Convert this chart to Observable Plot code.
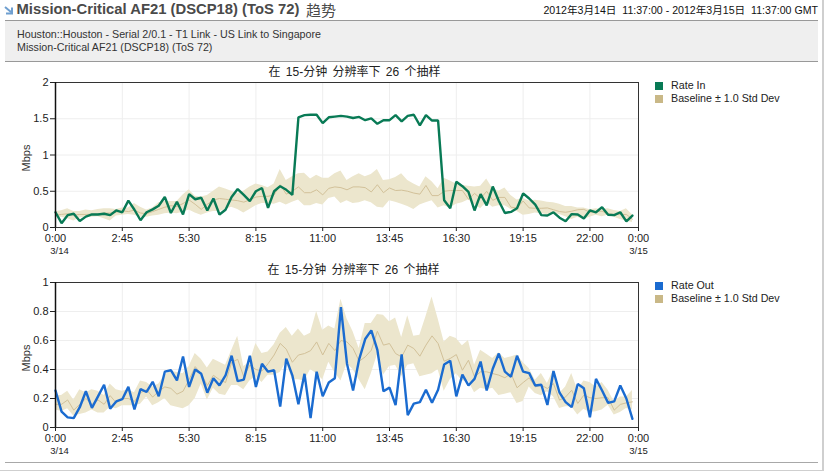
<!DOCTYPE html>
<html><head><meta charset="utf-8">
<script src="https://cdn.jsdelivr.net/npm/d3@7"></script>
<script src="https://cdn.jsdelivr.net/npm/@observablehq/plot@0.6"></script>
<style>
html,body{margin:0;padding:0;background:#fff;width:824px;height:471px;overflow:hidden;font-family:"Liberation Sans",Arial,sans-serif}
.abs{position:absolute;white-space:nowrap}
svg{display:block}
</style></head><body>
<script>
const tickHours=[0,2.75,5.5,8.25,11,13.75,16.5,19.25,22,24];
const tickLabels=["0:00","2:45","5:30","8:15","11:00","13:45","16:30","19:15","22:00","0:00"];
const rateIn=[.21,.06,.17,.19,.09,.15,.18,.18,.19,.17,.235,.21,.37,.245,.10,.21,.25,.30,.42,.20,.355,.18,.46,.39,.41,.235,.40,.18,.245,.42,.53,.45,.365,.50,.545,.27,.50,.57,.52,.45,1.52,1.55,1.555,1.555,1.44,1.52,1.53,1.54,1.53,1.51,1.525,1.48,1.505,1.43,1.48,1.48,1.55,1.465,1.54,1.555,1.41,1.55,1.475,1.475,.375,.265,.63,.57,.49,.235,.46,.305,.565,.365,.20,.215,.265,.47,.40,.315,.17,.165,.21,.135,.085,.185,.18,.125,.235,.21,.28,.175,.17,.21,.085,.165];
const baseIn=[.17,.18,.19,.17,.18,.18,.185,.19,.2,.2,.21,.23,.22,.24,.2,.19,.22,.25,.28,.3,.29,.33,.38,.32,.25,.32,.38,.4,.39,.38,.37,.35,.38,.42,.43,.43,.45,.59,.46,.5,.56,.48,.48,.52,.45,.54,.56,.55,.52,.56,.56,.55,.49,.59,.48,.545,.51,.515,.50,.475,.46,.58,.44,.44,.5,.51,.51,.51,.39,.47,.40,.5,.375,.415,.415,.28,.27,.365,.27,.265,.265,.27,.245,.22,.21,.225,.245,.25,.21,.22,.225,.19,.18,.18,.18,.115];
const upperIn=[.22,.23,.26,.22,.22,.24,.23,.25,.26,.26,.25,.27,.27,.33,.28,.24,.27,.34,.36,.36,.36,.45,.52,.43,.42,.44,.5,.56,.53,.5,.47,.5,.56,.6,.58,.55,.6,.8,.65,.7,.74,.75,.67,.72,.68,.68,.74,.78,.65,.7,.74,.70,.73,.8,.65,.66,.69,.74,.65,.6,.56,.70,.63,.535,.68,.64,.6,.58,.57,.56,.57,.67,.535,.5,.545,.44,.38,.4,.365,.375,.365,.35,.34,.32,.29,.29,.27,.27,.245,.26,.25,.26,.235,.22,.26,.175];
const lowerIn=[.14,.14,.12,.09,.13,.14,.14,.15,.12,.09,.16,.17,.18,.17,.14,.14,.16,.17,.19,.2,.19,.21,.24,.2,.17,.2,.22,.22,.25,.28,.25,.2,.25,.3,.33,.33,.32,.35,.31,.35,.38,.3,.3,.33,.31,.4,.42,.33,.37,.33,.34,.37,.34,.28,.27,.37,.35,.32,.29,.25,.31,.34,.37,.27,.3,.27,.32,.34,.38,.32,.26,.35,.28,.3,.3,.25,.22,.17,.18,.2,.19,.18,.19,.18,.15,.11,.14,.11,.14,.17,.15,.17,.14,.11,.09,.07];
const rateOut=[.255,.11,.07,.065,.14,.25,.135,.215,.295,.13,.18,.195,.28,.125,.265,.245,.315,.215,.385,.395,.325,.49,.28,.40,.37,.24,.34,.29,.36,.495,.32,.33,.495,.28,.44,.385,.395,.145,.475,.36,.16,.37,.065,.385,.215,.31,.34,.83,.44,.255,.47,.61,.67,.535,.25,.275,.155,.505,.085,.165,.175,.26,.17,.26,.435,.46,.215,.365,.29,.335,.455,.255,.405,.51,.385,.35,.495,.385,.375,.29,.295,.155,.39,.24,.175,.14,.30,.27,.07,.335,.255,.17,.18,.29,.20,.06];
const baseOut=[.16,.16,.19,.12,.16,.2,.16,.19,.16,.22,.17,.2,.2,.18,.24,.26,.21,.25,.28,.27,.23,.25,.33,.42,.37,.29,.36,.33,.31,.45,.47,.35,.43,.4,.39,.44,.5,.58,.54,.45,.5,.51,.53,.59,.5,.58,.53,.6,.59,.545,.457,.487,.533,.664,.568,.579,.51,.487,.568,.545,.492,.568,.632,.579,.457,.476,.503,.395,.464,.349,.384,.384,.372,.361,.343,.372,.274,.31,.343,.28,.292,.269,.303,.189,.211,.257,.166,.223,.205,.2,.205,.205,.12,.159,.17,.177];
const upperOut=[.22,.22,.25,.19,.26,.24,.26,.25,.22,.3,.26,.25,.26,.24,.32,.31,.28,.3,.36,.39,.38,.37,.42,.51,.47,.41,.47,.45,.43,.53,.63,.42,.45,.58,.51,.52,.57,.65,.69,.63,.68,.63,.65,.8,.67,.7,.68,.885,.75,.66,.545,.717,.717,.78,.775,.73,.756,.62,.77,.63,.637,.763,.9,.75,.59,.63,.614,.563,.6,.43,.533,.506,.476,.515,.476,.487,.5,.448,.407,.326,.372,.303,.395,.234,.28,.372,.257,.32,.31,.28,.31,.257,.177,.21,.21,.255];
const lowerOut=[.12,.11,.13,.08,.09,.1,.12,.1,.1,.14,.13,.15,.15,.15,.16,.21,.15,.17,.2,.15,.14,.13,.15,.2,.3,.19,.27,.23,.22,.29,.29,.26,.32,.35,.31,.36,.36,.38,.45,.33,.33,.32,.4,.37,.33,.45,.38,.32,.44,.4,.33,.26,.37,.5,.36,.42,.43,.35,.43,.44,.35,.36,.37,.4,.25,.33,.37,.32,.32,.24,.27,.26,.27,.22,.23,.24,.166,.18,.28,.235,.219,.246,.212,.131,.143,.143,.086,.126,.103,.108,.12,.154,.086,.103,.131,.12];
const hours=d3.range(rateIn.length).map(i=>i*0.25);

function chart(values,base,upper,lower,color,yDomain,yTicks,dateL,dateR){
  const rows=hours.map((h,i)=>({h,v:values[i],b:base[i],u:upper[i],l:lower[i]}));
  return Plot.plot({
    width:650,height:200,marginLeft:55,marginRight:12,marginTop:18,marginBottom:37,
    style:{fontFamily:"'Liberation Sans',Arial,sans-serif",fontSize:"11px",color:"#222",background:"transparent",overflow:"visible"},
    x:{domain:[0,24]},
    y:{domain:yDomain},
    marks:[
      Plot.gridX(tickHours,{stroke:"#eeeeee",strokeOpacity:1,strokeWidth:1}),
      Plot.gridY(yTicks,{stroke:"#eeeeee",strokeOpacity:1,strokeWidth:1}),
      Plot.areaY(rows,{x:"h",y1:"l",y2:"u",fill:"#ece6cd",fillOpacity:1}),
      Plot.lineY(rows,{x:"h",y:"b",stroke:"#d2c199",strokeWidth:1}),
      Plot.lineY(rows,{x:"h",y:"v",stroke:color,strokeWidth:2.4,strokeLinejoin:"miter"}),
      Plot.frame({stroke:"#333",strokeWidth:1}),
      Plot.ruleX([0],{stroke:"#111",strokeWidth:1.5}),
      Plot.axisX({ticks:tickHours,tickFormat:(d,i)=>tickLabels[i],tickSize:4,tickPadding:3,stroke:"#222",label:null,fontSize:11,fill:"#222"}),
      Plot.axisY({ticks:yTicks,tickFormat:d=>String(+d.toFixed(1)),tickSize:5,tickPadding:2,stroke:"#222",label:null,fontSize:11,fill:"#222"}),
      Plot.text([dateL],{x:()=>0,frameAnchor:"bottom",dy:26,dx:4,fontSize:9.5,fill:"#222"}),
      Plot.text([dateR],{x:()=>24,frameAnchor:"bottom",dy:26,dx:0,fontSize:9.5,fill:"#222"}),
      Plot.text(["Mbps"],{frameAnchor:"left",dx:-29,dy:3,rotate:-90,textAnchor:"middle",fontSize:11,fill:"#333"})
    ]
  });
}
function add(html,css){const d=document.createElement("div");d.className="abs";d.style.cssText=css;d.innerHTML=html;document.body.appendChild(d);return d;}

add("","left:5px;top:20px;width:813px;height:40px;background:#efefef;border-top:1px solid #999;border-bottom:1px solid #999");
add("","left:5px;top:462px;width:813px;height:1px;background:#a8a8a8");
add("","left:822px;top:0;width:2px;height:471px;background:#cfcfcf");
add("","left:0;top:470px;width:824px;height:1px;background:#cfcfcf");
add("<svg width='10' height='9' viewBox='0 0 10 9'><path d='M1 1 L7 6 M8 1.5 V7.5 H2' fill='none' stroke='#6f9fd0' stroke-width='2'/></svg>","left:4px;top:6px;line-height:0");
add("Mission-Critical AF21 (DSCP18) (ToS 72)","left:16.5px;top:0px;font-size:14.8px;line-height:19px;font-weight:bold;color:#4a4a4a");
add("趋势","left:306px;top:0px;font-size:15px;line-height:19px;color:#4a4a4a;font-family:'Noto Sans CJK SC'");
add("2012年3月14日&nbsp; 11:37:00 - 2012年3月15日&nbsp; 11:37:00 GMT","right:6px;top:4px;font-size:10.6px;line-height:13px;color:#111;font-family:'Liberation Sans','Noto Sans CJK SC'");
add("Houston::Houston - Serial 2/0.1 - T1 Link - US Link to Singapore<br>Mission-Critical AF21 (DSCP18) (ToS 72)","left:17px;top:28px;font-size:10.7px;line-height:13px;color:#333");

const c1=chart(rateIn,baseIn,upperIn,lowerIn,"#087a55",[0,2],[0,.5,1,1.5,2],"3/14","3/15");
const c2=chart(rateOut,baseOut,upperOut,lowerOut,"#1a6bd0",[0,1],[0,.2,.4,.6,.8,1],"3/14","3/15");
const w1=add("","left:0;top:64px");w1.appendChild(c1);
const w2=add("","left:0;top:264px");w2.appendChild(c2);

function title(t,center,top){add(t,`left:${center-150}px;top:${top}px;width:300px;text-align:center;font-size:12px;word-spacing:2px;line-height:14px;color:#222;font-family:'Liberation Sans','Noto Sans CJK SC'`);}
title("在 15-分钟 分辨率下 26 个抽样",354.5,65);
title("在 15-分钟 分辨率下 26 个抽样",353.5,263);

function legend(name,color,top){
  add("","left:655px;top:"+(top+1)+"px;width:8px;height:8px;background:"+color);
  add(name,"left:671px;top:"+(top-2)+"px;font-size:10.7px;line-height:12px;color:#222");
  add("","left:655px;top:"+(top+14)+"px;width:8px;height:8px;background:#c9b887");
  add("Baseline ± 1.0 Std Dev","left:671px;top:"+(top+11)+"px;font-size:10.7px;line-height:12px;color:#222");
}
legend("Rate In","#087a55",81);
legend("Rate Out","#1a6bd0",281);
</script>
</body></html>
